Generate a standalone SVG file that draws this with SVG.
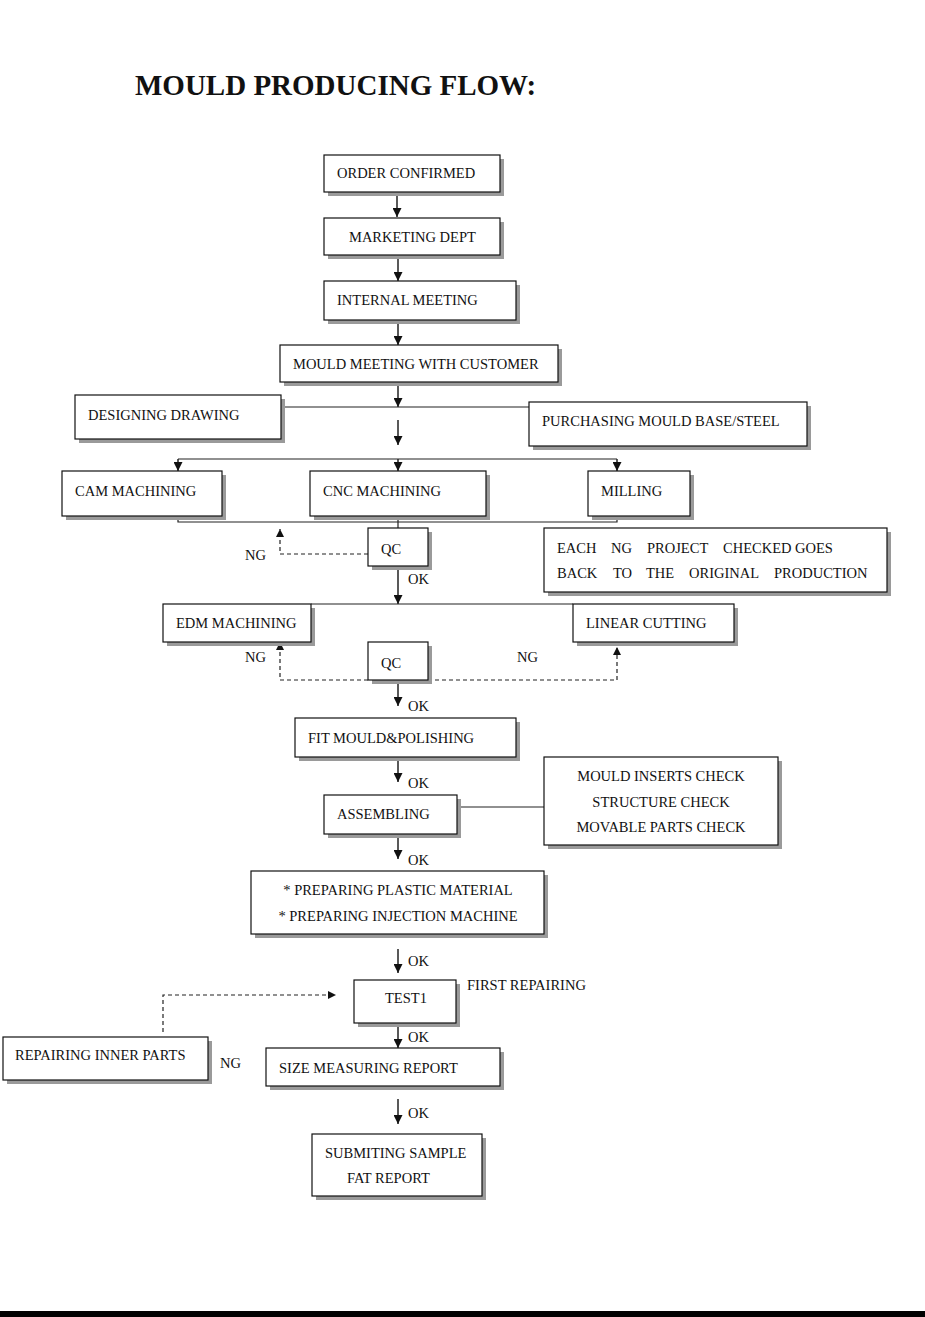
<svg xmlns="http://www.w3.org/2000/svg" width="925" height="1317" viewBox="0 0 925 1317">
<defs>
<style>
text{font-family:"Liberation Serif","Times New Roman",serif;font-size:14.5px;fill:#111}
.title{font-size:29px;font-weight:bold}
.sh{fill:#9a9a9a}
.bx{fill:#fff;stroke:#111;stroke-width:1.2}
.ln{stroke:#222;stroke-width:1.2;fill:none}
.ar{stroke:#222;stroke-width:1.5;fill:none;marker-end:url(#ah)}
.ds{stroke:#222;stroke-width:1.2;fill:none;stroke-dasharray:4 3;marker-end:url(#ah2)}
.c{text-anchor:middle}
</style>
<marker id="ah" viewBox="0 0 10 10" refX="10" refY="5" markerWidth="9" markerHeight="9" markerUnits="userSpaceOnUse" orient="auto"><path d="M0,0 L10,5 L0,10 z" fill="#111"/></marker>
<marker id="ah2" viewBox="0 0 10 10" refX="10" refY="5" markerWidth="8" markerHeight="8" markerUnits="userSpaceOnUse" orient="auto"><path d="M0,0 L10,5 L0,10 z" fill="#111"/></marker>
</defs>
<rect width="925" height="1317" fill="#fff"/>
<text class="title" x="135" y="95">MOULD PRODUCING FLOW:</text>

<g id="connectors">
<path class="ar" d="M397,192 V217"/>
<path class="ar" d="M398,255 V281"/>
<path class="ar" d="M398,320 V345"/>
<path class="ar" d="M398,382 V407"/>
<path class="ln" d="M281,407 H529"/>
<path class="ar" d="M398,420 V445"/>
<path class="ln" d="M178,459 H617"/>
<path class="ar" d="M178,459 V471"/>
<path class="ar" d="M398,459 V471"/>
<path class="ar" d="M617,459 V471"/>
<path class="ln" d="M178,516 V522 H617 V516 M398,516 V528"/>
<path class="ds" d="M368,554 H280 V529"/>
<path class="ar" d="M398,566 V604"/>
<path class="ln" d="M311,604 H573"/>
<path class="ds" d="M368,680 H280 V642"/>
<path class="ds" d="M428,680 H617 V647"/>
<path class="ar" d="M398,680 V706"/>
<path class="ar" d="M398,757 V782"/>
<path class="ln" d="M457,807 H544"/>
<path class="ar" d="M398,834 V859"/>
<path class="ar" d="M398,949 V973"/>
<path class="ds" d="M163,1032 V995 H336"/>
<path class="ar" d="M398,1023 V1048"/>
<path class="ar" d="M398,1099 V1124"/>
</g>

<g id="order-confirmed"><rect class="sh" x="328" y="159" width="176" height="37"/><rect class="bx" x="324" y="155" width="176" height="37"/><text x="337" y="178">ORDER CONFIRMED</text></g>
<g id="marketing-dept"><rect class="sh" x="328" y="222" width="176" height="37"/><rect class="bx" x="324" y="218" width="176" height="37"/><text x="349" y="242">MARKETING DEPT</text></g>
<g id="internal-meeting"><rect class="sh" x="328" y="285" width="192" height="39"/><rect class="bx" x="324" y="281" width="192" height="39"/><text x="337" y="305">INTERNAL MEETING</text></g>
<g id="mould-meeting"><rect class="sh" x="284" y="349" width="278" height="37"/><rect class="bx" x="280" y="345" width="278" height="37"/><text x="293" y="369">MOULD MEETING WITH CUSTOMER</text></g>
<g id="designing-drawing"><rect class="sh" x="79" y="399" width="206" height="44"/><rect class="bx" x="75" y="395" width="206" height="44"/><text x="88" y="420">DESIGNING DRAWING</text></g>
<g id="purchasing"><rect class="sh" x="533" y="406" width="278" height="44"/><rect class="bx" x="529" y="402" width="278" height="44"/><text x="542" y="426">PURCHASING MOULD BASE/STEEL</text></g>
<g id="cam-machining"><rect class="sh" x="66" y="475" width="160" height="45"/><rect class="bx" x="62" y="471" width="160" height="45"/><text x="75" y="496">CAM MACHINING</text></g>
<g id="cnc-machining"><rect class="sh" x="314" y="475" width="176" height="45"/><rect class="bx" x="310" y="471" width="176" height="45"/><text x="323" y="496">CNC MACHINING</text></g>
<g id="milling"><rect class="sh" x="592" y="475" width="102" height="45"/><rect class="bx" x="588" y="471" width="102" height="45"/><text x="601" y="496">MILLING</text></g>
<g id="qc1"><rect class="sh" x="372" y="532" width="60" height="38"/><rect class="bx" x="368" y="528" width="60" height="38"/><text x="381" y="554">QC</text></g>
<g id="note-ng"><rect class="sh" x="548" y="532" width="343" height="64"/><rect class="bx" x="544" y="528" width="343" height="64"/>
<text y="553"><tspan x="557">EACH</tspan><tspan x="611">NG</tspan><tspan x="647">PROJECT</tspan><tspan x="723">CHECKED</tspan><tspan x="795">GOES</tspan></text>
<text y="578"><tspan x="557">BACK</tspan><tspan x="613">TO</tspan><tspan x="646">THE</tspan><tspan x="689">ORIGINAL</tspan><tspan x="774">PRODUCTION</tspan></text></g>
<g id="edm-machining"><rect class="sh" x="167" y="608" width="148" height="38"/><rect class="bx" x="163" y="604" width="148" height="38"/><text x="176" y="628">EDM MACHINING</text></g>
<g id="linear-cutting"><rect class="sh" x="577" y="608" width="161" height="38"/><rect class="bx" x="573" y="604" width="161" height="38"/><text x="586" y="628">LINEAR CUTTING</text></g>
<g id="qc2"><rect class="sh" x="372" y="646" width="60" height="38"/><rect class="bx" x="368" y="642" width="60" height="38"/><text x="381" y="668">QC</text></g>
<g id="fit-mould"><rect class="sh" x="299" y="722" width="221" height="39"/><rect class="bx" x="295" y="718" width="221" height="39"/><text x="308" y="743">FIT MOULD&amp;POLISHING</text></g>
<g id="assembling"><rect class="sh" x="328" y="799" width="133" height="39"/><rect class="bx" x="324" y="795" width="133" height="39"/><text x="337" y="819">ASSEMBLING</text></g>
<g id="checks"><rect class="sh" x="548" y="761" width="234" height="88"/><rect class="bx" x="544" y="757" width="234" height="88"/>
<text class="c" x="661" y="781">MOULD INSERTS CHECK</text><text class="c" x="661" y="807">STRUCTURE CHECK</text><text class="c" x="661" y="832">MOVABLE PARTS CHECK</text></g>
<g id="preparing"><rect class="sh" x="255" y="875" width="293" height="63"/><rect class="bx" x="251" y="871" width="293" height="63"/>
<text class="c" x="398" y="895">* PREPARING PLASTIC MATERIAL</text><text class="c" x="398" y="921">* PREPARING INJECTION MACHINE</text></g>
<g id="test1"><rect class="sh" x="358" y="984" width="102" height="43"/><rect class="bx" x="354" y="980" width="102" height="43"/><text x="385" y="1003">TEST1</text></g>
<g id="repairing-inner"><rect class="sh" x="7" y="1041" width="205" height="43"/><rect class="bx" x="3" y="1037" width="205" height="43"/><text x="15" y="1060">REPAIRING INNER PARTS</text></g>
<g id="size-report"><rect class="sh" x="270" y="1052" width="234" height="38"/><rect class="bx" x="266" y="1048" width="234" height="38"/><text x="279" y="1073">SIZE MEASURING REPORT</text></g>
<g id="submitting"><rect class="sh" x="316" y="1138" width="170" height="62"/><rect class="bx" x="312" y="1134" width="170" height="62"/>
<text x="325" y="1158">SUBMITING SAMPLE</text><text x="347" y="1183">FAT REPORT</text></g>

<g id="labels">
<text x="245" y="560">NG</text>
<text x="408" y="584">OK</text>
<text x="245" y="662">NG</text>
<text x="517" y="662">NG</text>
<text x="408" y="711">OK</text>
<text x="408" y="788">OK</text>
<text x="408" y="865">OK</text>
<text x="408" y="966">OK</text>
<text x="467" y="990">FIRST REPAIRING</text>
<text x="408" y="1042">OK</text>
<text x="220" y="1068">NG</text>
<text x="408" y="1118">OK</text>
</g>
<rect x="0" y="1311" width="925" height="6" fill="#000"/>
</svg>
